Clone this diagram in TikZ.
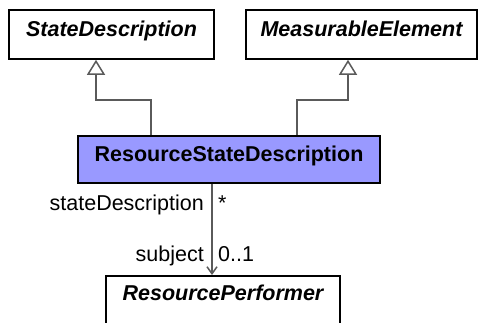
\documentclass[tikz,border=0pt]{standalone}
\usepackage{fontspec}
\setmainfont{Liberation Sans}
\usetikzlibrary{arrows.meta}
\definecolor{rsdfill}{RGB}{153,153,255}
\definecolor{lineg}{RGB}{90,90,90}
\begin{document}
\begin{tikzpicture}[x=1pt,y=-1pt,
 cls/.style={draw=black, line width=1.6pt, fill=white, inner sep=0pt},
 lbl/.style={font=\fontsize{21.5}{26}\selectfont, inner sep=0pt},
 ttl/.style={inner sep=0pt, font=\fontsize{21.5}{26}\selectfont\bfseries\itshape},
 btl/.style={inner sep=0pt, font=\fontsize{21.5}{26}\selectfont\bfseries},
 conn/.style={draw=lineg, line width=1.5pt},
 gen/.style={conn, -{Triangle[open, length=15pt, width=18pt, fill=white]}},
 nav/.style={conn, -{Straight Barb[length=7pt, width=10pt]}}]
\useasboundingbox (0,0) rectangle (481,322);
\fill[white] (0,0) rectangle (481,322);
% class boxes
\node[cls, minimum width=205pt, minimum height=49pt] (sd) at (111.5,34.5) {};
\node[ttl, anchor=base] (sdt) at (111.5,36) {StateDescription};
\node[cls, minimum width=231pt, minimum height=49pt] (me) at (361.5,34.5) {};
\node[ttl, anchor=base] (met) at (361.5,36) {MeasurableElement};
\node[cls, fill=rsdfill, minimum width=302pt, minimum height=47pt] (rsd) at (229,159.5) {};
\node[btl, anchor=base] (rsdt) at (229,161.5) {ResourceStateDescription};
\node[cls, minimum width=234pt, minimum height=70pt, anchor=north] (rp) at (223,275) {};
\node[ttl, anchor=base] (rpt) at (223,300) {ResourcePerformer};
% generalizations
\coordinate (lx) at (151,100);
\coordinate (ly) at (96,100);
\coordinate (rx) at (297,100);
\coordinate (ry) at (348,100);
\draw[gen] (rsd.north -| lx) -- (lx) -- (ly) -- (sd.south -| ly);
\draw[gen] (rsd.north -| rx) -- (rx) -- (ry) -- (me.south -| ry);
% association
\coordinate (ax) at (212,220);
\draw[nav] (rsd.south -| ax) -- (rp.north -| ax);
\node[lbl, anchor=base east] (l1) at (204,210) {stateDescription};
\node[lbl, anchor=base west] (l2) at (218,210) {*};
\node[lbl, anchor=base east] (l3) at (204,261) {subject};
\node[lbl, anchor=base west] (l4) at (218,261) {0..1};
\end{tikzpicture}
\end{document}
